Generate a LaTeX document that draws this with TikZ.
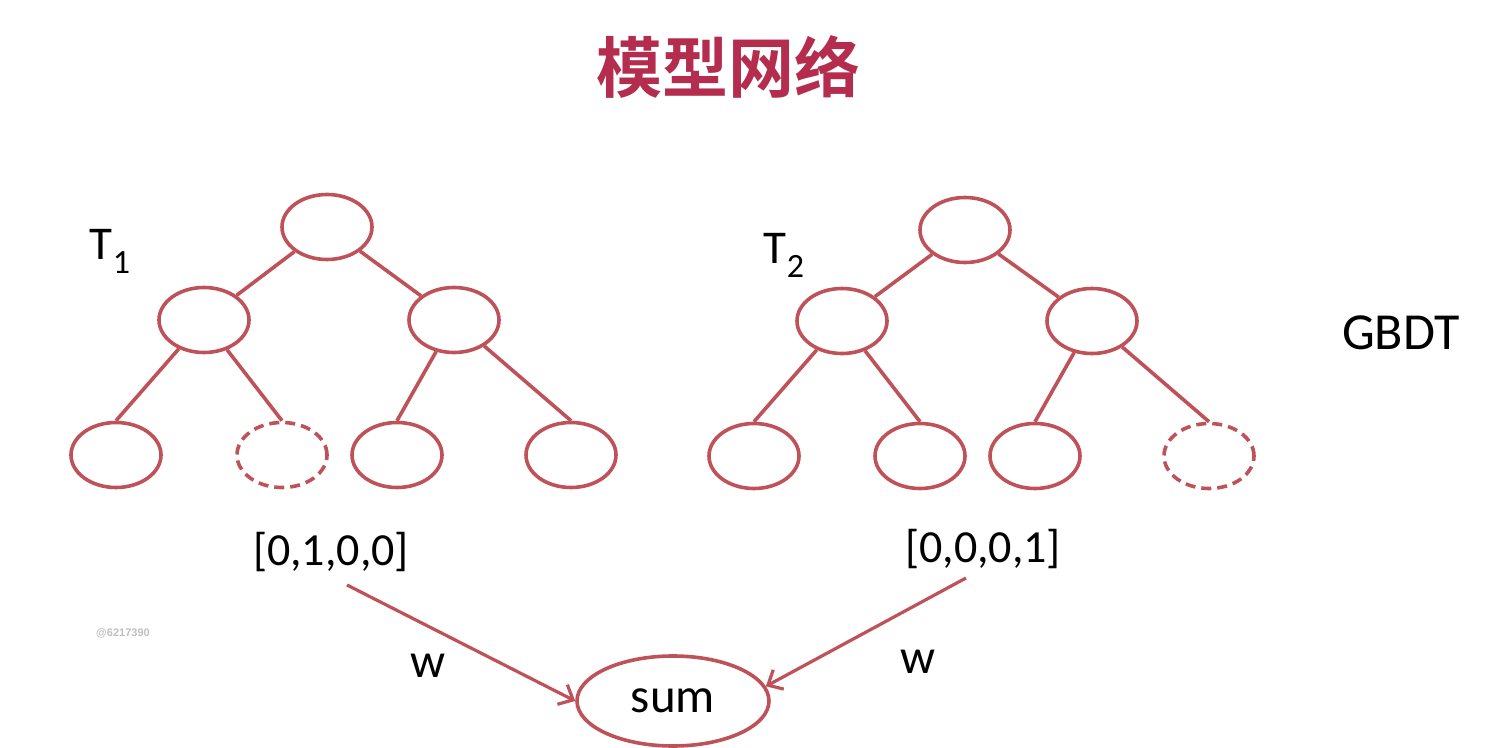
\documentclass[tikz,border=0pt]{standalone}
\usepackage{fontspec}
\setmainfont{Carlito}
\newfontfamily\cjk{Noto Sans CJK SC Bold}
\newfontfamily\wmfont{Liberation Sans}
\usetikzlibrary{shapes.geometric,arrows.meta}
\definecolor{tree}{RGB}{190,82,88}
\definecolor{titlered}{RGB}{180,44,78}
\tikzset{
  tnode/.style={ellipse,draw=tree,line width=1.8pt,minimum width=45pt,minimum height=32.5pt,inner sep=0pt},
  dnode/.style={tnode,dash pattern=on 5pt off 3pt},
  edge/.style={draw=tree,line width=1.8pt},
  arr/.style={draw=tree,line width=1.6pt,-{Straight Barb[length=6pt,width=11pt,line width=1.6pt]}},
  lab/.style={inner sep=0pt,text=black}
}
\begin{document}
\begin{tikzpicture}[x=0.5pt,y=-0.5pt]
\useasboundingbox (0,0) rectangle (1489,748);
\node[lab,text=titlered,font=\cjk\fontsize{33}{33}\selectfont] (title) at (728,67) {模型网络};
% tree 1
\node[tnode] (a0) at (327,227) {};
\node[tnode] (a1) at (204,320) {};
\node[tnode] (a2) at (454,320) {};
\node[tnode] (a3) at (116,455) {};
\node[dnode] (a4) at (282,455) {};
\node[tnode] (a5) at (397,455) {};
\node[tnode] (a6) at (571,455) {};
% tree 2
\node[tnode] (b0) at (965,230) {};
\node[tnode] (b1) at (842,321) {};
\node[tnode] (b2) at (1092,321) {};
\node[tnode] (b3) at (754,456) {};
\node[tnode] (b4) at (920,456) {};
\node[tnode] (b5) at (1035,456) {};
\node[dnode] (b6) at (1209,456) {};
\draw[edge] (a0) -- (a1);
\draw[edge] (a0) -- (a2);
\draw[edge] (a1) -- (a3.north);
\draw[edge] (a1) -- (a4.north);
\draw[edge] (a2) -- (a5.north);
\draw[edge] (a2) -- (a6.north);
\draw[edge] (b0) -- (b1);
\draw[edge] (b0) -- (b2);
\draw[edge] (b1) -- (b3.north);
\draw[edge] (b1) -- (b4.north);
\draw[edge] (b2) -- (b5.north);
\draw[edge] (b2) -- (b6.north);
% labels
\node[lab,font=\fontsize{23.5}{23.5}\selectfont] (t1) at (110,251) {T\raisebox{-7pt}{\fontsize{17}{17}\selectfont 1}};
\node[lab,font=\fontsize{23.5}{23.5}\selectfont] (t2) at (784,255) {T\raisebox{-7pt}{\fontsize{17}{17}\selectfont 2}};
\node[lab,font=\fontsize{26}{26}\selectfont] (gbdt) at (1401,333) {GBDT};
\node[lab,font=\fontsize{23}{23}\selectfont] (v1) at (331,552) {[0,1,0,0]};
\node[lab,font=\fontsize{23}{23}\selectfont] (v2) at (983,549) {[0,0,0,1]};
\node[lab,text=gray!50,font=\wmfont\bfseries\fontsize{5.5}{5.5}\selectfont] (wm) at (123,633) {@6217390};
% sum
\node[tnode,minimum width=96pt,minimum height=45pt,font=\fontsize{24.5}{24.5}\selectfont] (sum) at (673,701) {sum};
\coordinate (s1) at (347,585);
\coordinate (s2) at (966,578);
\draw[arr] (s1) -- (sum.west);
\draw[arr] (s2) -- (sum.9);
\node[lab,font=\fontsize{24.5}{24.5}\selectfont] (w1) at (428,666) {w};
\node[lab,font=\fontsize{24.5}{24.5}\selectfont] (w2) at (918,662) {w};
\end{tikzpicture}
\end{document}
